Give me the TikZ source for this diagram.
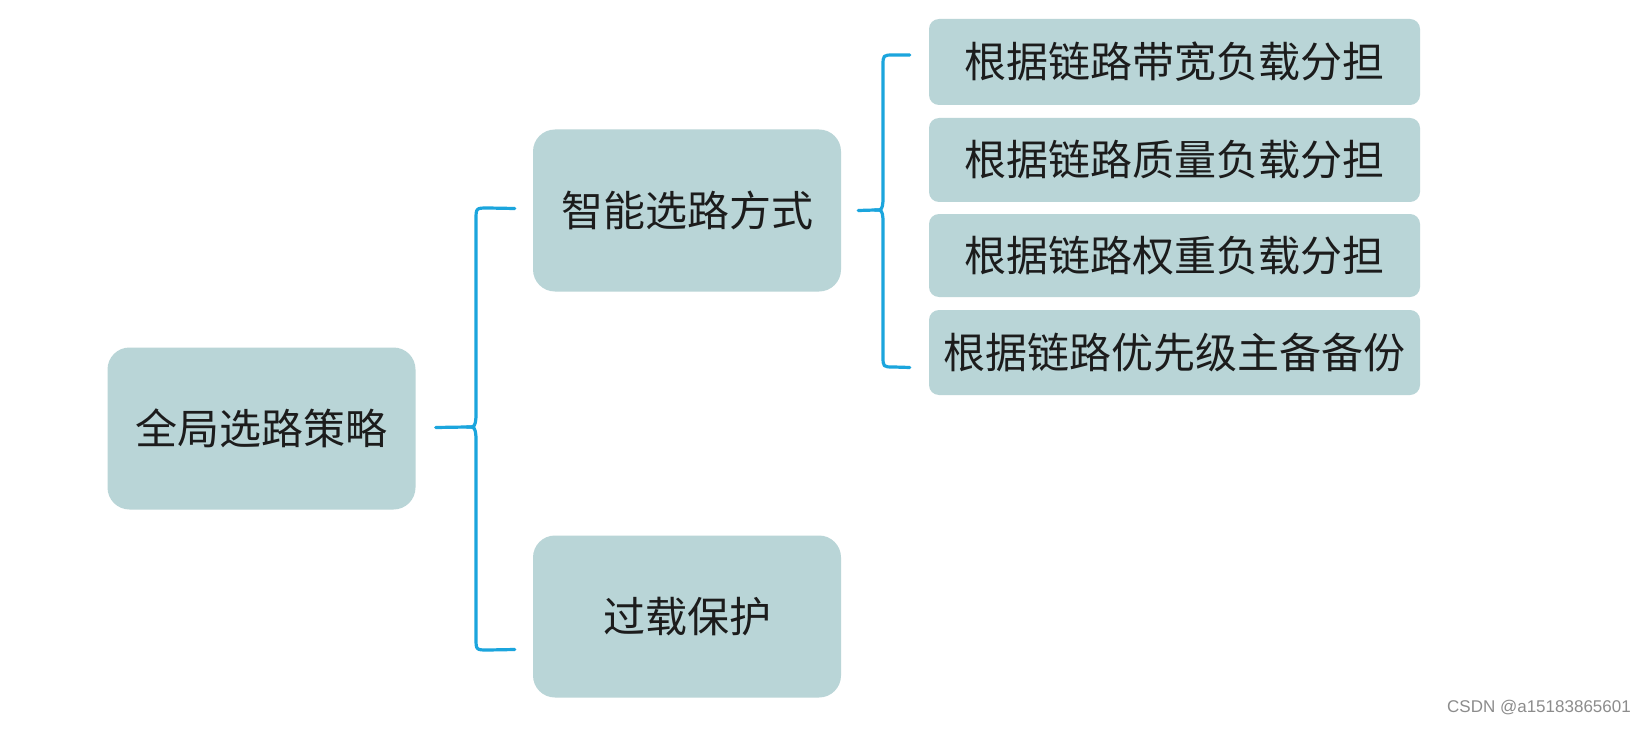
\documentclass[tikz,border=0pt]{standalone}
\usepackage{fontspec}
\newfontfamily\cjk{Noto Sans CJK SC}
\newfontfamily\wm{Liberation Sans}
\definecolor{boxfill}{HTML}{B9D5D7}
\definecolor{brace}{HTML}{1BA5DD}
\definecolor{txt}{HTML}{1C1C1C}
\begin{document}
\begin{tikzpicture}[x=1pt,y=-1pt,
  bigbox/.style={rectangle,fill=boxfill,rounded corners=22pt,inner sep=0pt,
    minimum width=308pt,minimum height=162pt,font=\cjk\fontsize{42}{50}\selectfont,text=txt},
  smallbox/.style={rectangle,fill=boxfill,rounded corners=10pt,inner sep=0pt,
    minimum width=491pt,minimum height=84pt,font=\cjk\fontsize{42}{50}\selectfont,text=txt},
  bracepath/.style={draw=brace,line width=3.2pt,line cap=round,line join=round}]
\useasboundingbox (0,0) rectangle (1648,730);
\fill[white] (0,0) rectangle (1648,730);
\node[bigbox] (root) at (261.5,428.5) {全局选路策略};
\node[bigbox] (mid1) at (687,210.5) {智能选路方式};
\node[bigbox] (mid2) at (687,616.5) {过载保护};
\node[smallbox,minimum height=86pt] (r1) at (1174.5,62) {根据链路带宽负载分担};
\node[smallbox] (r2) at (1174.5,160) {根据链路质量负载分担};
\node[smallbox,minimum height=83pt] (r3) at (1174.5,255.5) {根据链路权重负载分担};
\node[smallbox,minimum height=85pt] (r4) at (1174.5,352.5) {根据链路优先级主备备份};
% big brace
\coordinate (bs) at ([xshift=20pt,yshift=1pt]root.east);
\coordinate (bc) at (476,427);
\coordinate (bt) at ([xshift=-18pt,yshift=2pt]mid1.west);
\coordinate (bb) at ([xshift=-18pt,yshift=-33pt]mid2.west);
\draw[bracepath] (bs) -- ([xshift=-9pt]bc);
\draw[bracepath] ([xshift=-9pt]bc) .. controls ([xshift=-1pt]bc) .. ([yshift=10pt]bc)
  -- (476,220) .. controls (476,208) .. (488,208) -- (bt);
\draw[bracepath] ([xshift=-9pt]bc) .. controls ([xshift=-1pt]bc) .. ([yshift=-10pt]bc)
  -- (476,638) .. controls (476,650) .. (488,650) -- (bb);
% small brace
\coordinate (ss) at ([xshift=17pt]mid1.east);
\coordinate (sc) at (883,210);
\coordinate (st) at ([xshift=-19pt,yshift=7pt]r1.west);
\coordinate (sb) at ([xshift=-19pt,yshift=-15pt]r4.west);
\draw[bracepath] (ss) -- ([xshift=-8pt]sc);
\draw[bracepath] ([xshift=-8pt]sc) .. controls ([xshift=-1pt]sc) .. ([yshift=9pt]sc)
  -- (883,66) .. controls (883,55) .. (894,55) -- (st);
\draw[bracepath] ([xshift=-8pt]sc) .. controls ([xshift=-1pt]sc) .. ([yshift=-9pt]sc)
  -- (883,356) .. controls (883,367) .. (894,367) -- (sb);
\node[font=\wm\fontsize{17}{20}\selectfont,text=black!45,anchor=east,inner sep=0pt] (wmk) at (1631,708) {CSDN @a15183865601};
\end{tikzpicture}
\end{document}
